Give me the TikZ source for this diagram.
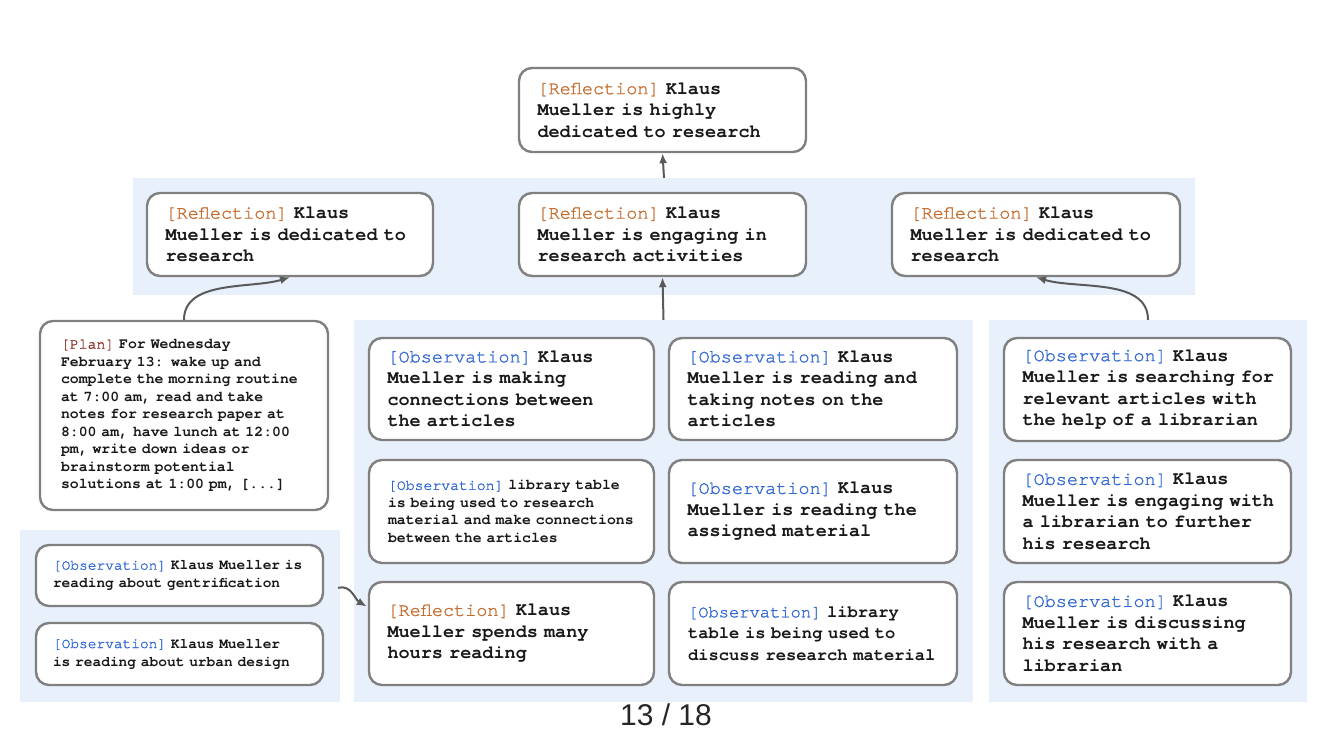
\documentclass[tikz,border=0pt]{standalone}
\usepackage{fontspec}
\setmainfont{Liberation Sans}
\setsansfont{Liberation Sans}
\newfontfamily\courfam{TeX Gyre Cursor}
\newfontfamily\courtag[FakeBold=1.2]{TeX Gyre Cursor}
\usetikzlibrary{arrows.meta,calc}
\definecolor{panelblue}{RGB}{232,240,251}
\definecolor{cardgray}{RGB}{128,128,128}
\definecolor{arrgray}{RGB}{90,90,90}
\definecolor{reflc}{RGB}{196,108,46}
\definecolor{obsc}{RGB}{50,104,210}
\definecolor{planc}{RGB}{135,45,35}
\definecolor{bodyc}{RGB}{25,25,25}
\newcommand\tagRef{{\courtag\mdseries\color{reflc}[Reflection]}}
\newcommand\tagObs{{\courtag\mdseries\color{obsc}[Observation]}}
\newcommand\tagPlan{{\courtag\mdseries\color{planc}[Plan]}}
\tikzset{
  card/.style={draw=cardgray, line width=2.4pt, rounded corners=13pt, fill=white, align=left, inner xsep=15pt, inner ysep=0pt, text=bodyc},
  big/.style={font=\courfam\fontsize{18.5}{21.5}\selectfont\bfseries, inner xsep=14pt, execute at begin node={\leftskip=4.5pt\relax}},
  midf/.style={font=\courfam\fontsize{17.1}{21.5}\selectfont\bfseries},
  smallf/.style={font=\courfam\fontsize{14.8}{17.5}\selectfont\bfseries},
  panel/.style={fill=panelblue, draw=none, inner sep=0pt},
  arr/.style={draw=arrgray, line width=2pt, -{Latex[length=10pt,width=8pt]}},
}
\begin{document}
\begin{tikzpicture}[x=1pt,y=-1pt]
\useasboundingbox[fill=white] (0,0) rectangle (1334,750);
% panels
\node[panel, minimum width=1062pt, minimum height=117pt] (p2) at (664,236.5) {};
\node[panel, minimum width=619pt, minimum height=382pt] (pc) at (663.5,511) {};
\node[panel, minimum width=318pt, minimum height=382pt] (pr) at (1148,511) {};
\node[panel, minimum width=320pt, minimum height=172pt] (pbl) at (180,616) {};
% top
\node[card, big, minimum width=287pt, minimum height=84pt, text width=259pt] (top) at (662.5,110)
 {\tagRef{} Klaus\\Mueller is highly\\dedicated to research};
% row 2
\node[card, big, minimum width=286pt, minimum height=83pt, text width=258pt] (ra) at (290,234.5)
 {\tagRef{} Klaus\\Mueller is dedicated to\\research};
\node[card, big, minimum width=287pt, minimum height=83pt, text width=259pt] (rb) at (662.5,234.5)
 {\tagRef{} Klaus\\Mueller is engaging in\\research activities};
\node[card, big, minimum width=288pt, minimum height=83pt, text width=260pt] (rc) at (1036,234.5)
 {\tagRef{} Klaus\\Mueller is dedicated to\\research};
% plan
\node[card, smallf, inner xsep=21pt, minimum width=288pt, minimum height=189pt, text width=246pt] (plan) at (184,415.5)
 {\tagPlan{} For Wednesday\\February 13: wake up and\\complete the morning routine\\at 7:00 am, read and take\\notes for research paper at\\8:00 am, have lunch at 12:00\\pm, write down ideas or\\brainstorm potential\\solutions at 1:00 pm, [...]};
% center column 1
\node[card, big, minimum width=285pt, minimum height=102pt, text width=257pt] (c11) at (511.5,389)
 {\tagObs{} Klaus\\Mueller is making\\connections between\\the articles};
\node[card, smallf, inner xsep=19pt, minimum width=285pt, minimum height=103pt, text width=247pt] (c12) at (511.5,511.5)
 {\tagObs{} library table\\is being used to research\\material and make connections\\between the articles};
\node[card, big, minimum width=285pt, minimum height=103pt, text width=257pt] (c13) at (511.5,633.5)
 {\tagRef{} Klaus\\Mueller spends many\\hours reading};
% center column 2
\node[card, big, minimum width=288pt, minimum height=102pt, text width=260pt] (c21) at (813,389)
 {\tagObs{} Klaus\\Mueller is reading and\\taking notes on the\\articles};
\node[card, big, minimum width=288pt, minimum height=103pt, text width=260pt] (c22) at (813,511.5)
 {\tagObs{} Klaus\\Mueller is reading the\\assigned material};
\node[card, midf, inner xsep=19pt, minimum width=288pt, minimum height=103pt, text width=250pt] (c23) at (813,633.5)
 {\tagObs{} library\\table is being used to\\discuss research material};
% right column
\node[card, big, minimum width=287pt, minimum height=103pt, text width=259pt] (r1) at (1147.5,389.5)
 {\tagObs{} Klaus\\Mueller is searching for\\relevant articles with\\the help of a librarian};
\node[card, big, minimum width=287pt, minimum height=103pt, text width=259pt] (r2) at (1147.5,511.5)
 {\tagObs{} Klaus\\Mueller is engaging with\\a librarian to further\\his research};
\node[card, big, minimum width=287pt, minimum height=103pt, text width=259pt] (r3) at (1147.5,633.5)
 {\tagObs{} Klaus\\Mueller is discussing\\his research with a\\librarian};
% bottom left
\node[card, smallf, font=\courfam\fontsize{14.5}{18}\selectfont\bfseries, inner xsep=17pt, minimum width=287pt, minimum height=61pt, text width=253pt] (b1) at (179.5,575.5)
 {\tagObs{} Klaus Mueller is\\reading about gentrification};
\node[card, smallf, font=\courfam\fontsize{14.5}{18}\selectfont\bfseries, inner xsep=17pt, minimum width=287pt, minimum height=62pt, text width=253pt] (b2) at (179.5,654)
 {\tagObs{} Klaus Mueller\\is reading about urban design};
% arrows
\draw[arr] (p2.north) -- (top.south);
\draw[arr] (pc.north) -- (rb.south);
\draw[arr] (plan.north) to[out=90,in=197,looseness=0.9] (ra.south);
\draw[arr] (pr.north) to[out=90,in=-17,looseness=0.9] (rc.south);
\coordinate (blout) at ($(pbl.north east)+(-2,58)$);
\draw[arr] (blout) to[out=15,in=150] ($(c13.west)+(-1,-27)$);
% page number
\node[font=\fontsize{30}{30}\selectfont\sffamily, text=black!85] (pg) at (666,715) {13 / 18};
\end{tikzpicture}
\end{document}
